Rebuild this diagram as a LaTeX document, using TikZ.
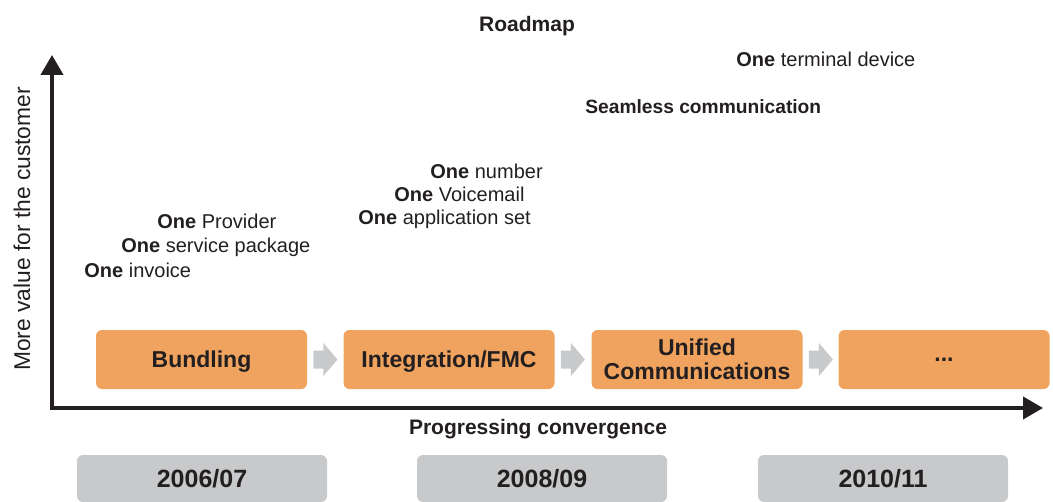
\documentclass[tikz,border=0pt]{standalone}
\usepackage{fontspec}
\setmainfont{Liberation Sans}
\usetikzlibrary{calc, arrows.meta}
\definecolor{roadorange}{HTML}{EFA35E}
\definecolor{roadgray}{HTML}{C8C9CB}
\definecolor{roadtext}{HTML}{231F20}

\begin{document}
\begin{tikzpicture}[x=0.5pt,y=-0.5pt,
    phase/.style={fill=roadorange, rounded corners=3pt, minimum width=105.5pt, minimum height=29.5pt, inner sep=0pt, align=center, text depth=0pt, text=roadtext, font=\fontsize{11.5}{12}\selectfont\bfseries},
    period/.style={fill=roadgray, rounded corners=3pt, minimum width=125pt, minimum height=23.5pt, inner sep=0pt, text=roadtext, font=\fontsize{12.5}{13}\selectfont\bfseries},
    benefit/.style={anchor=base west, inner sep=0pt, text=roadtext, font=\fontsize{10}{12}\selectfont},
    heading/.style={inner sep=0pt, text=roadtext, font=\fontsize{10.5}{12}\selectfont\bfseries},
    axis/.style={line width=2pt, draw=roadtext, {Triangle[length=10pt,width=11pt]}-{Triangle[length=10pt,width=11pt]}}]
    \useasboundingbox (0,0) rectangle (1053,502);

    % axes
    \coordinate (origin) at (52,408);
    \coordinate (ytip) at (52,55);
    \coordinate (xtip) at (1043,408);
    \draw[axis] (ytip) -- (origin) -- (xtip);
    \node[heading] (title) at (527,26) {Roadmap};
    \node[heading] (xlabel) at (538,429) {Progressing convergence};
    \node[rotate=90, inner sep=0pt, text=roadtext, font=\fontsize{11.4}{12}\selectfont] (ylabel) at (22,229) {More value for the customer};

    % phases
    \node[phase] (bundling) at (201.5,359.5) {Bundling};
    \node[phase] (fmc) at (449,359.5) {Integration/FMC};
    \node[phase] (uc) at (697,359.5) {Unified\\Communications};
    \node[phase] (next) at (944,359.5) {...};
    \foreach \a/\b in {bundling/fmc, fmc/uc, uc/next}
      \fill[roadgray] ($(\a.east)+(6,-9)$) -- ++(10,0) -- ++(0,-7.5) -- ++(14,16.5) -- ++(-14,16.5) -- ++(0,-7.5) -- ++(-10,0) -- cycle;

    % periods
    \node[period] (p0607) at (202,478.5) {2006/07};
    \node[period] (p0809) at (542,478.5) {2008/09};
    \node[period] (p1011) at (883,478.5) {2010/11};

    % benefits
    \node[benefit] (provider) at (157,228) {\textbf{One} Provider};
    \node[benefit] (package) at (121,252) {\textbf{One} service package};
    \node[benefit] (invoice) at (84,277) {\textbf{One} invoice};
    \node[benefit] (number) at (430,178) {\textbf{One} number};
    \node[benefit] (voicemail) at (394,201) {\textbf{One} Voicemail};
    \node[benefit] (appset) at (358,225) {\textbf{One} application set};
    \node[benefit, font=\fontsize{9.6}{12}\selectfont\bfseries] (seamless) at (585,114) {Seamless communication};
    \node[benefit] (terminal) at (736,67) {\textbf{One} terminal device};
  \end{tikzpicture}
\end{document}
